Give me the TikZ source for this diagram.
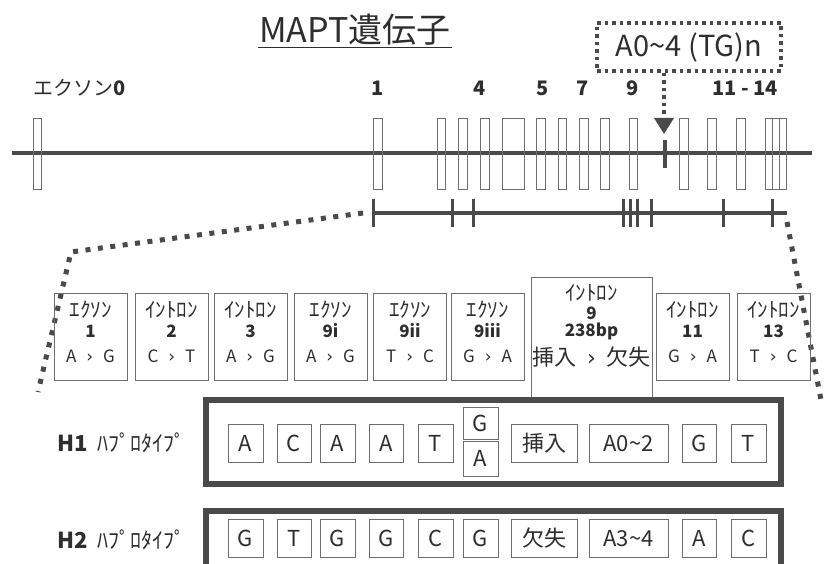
\documentclass[tikz,border=0pt]{standalone}
\usepackage{fontspec}
\setmainfont{Noto Sans CJK JP}
\newfontfamily\dvfont{DejaVu Sans}
\usetikzlibrary{arrows.meta}
\newcommand{\gtm}{{\dvfont ›}}
\newcommand{\gsp}{\hspace{10pt}\gtm\hspace{10pt}}
\definecolor{ink}{HTML}{2E2E2E}
\definecolor{lineg}{HTML}{4A4A4A}
\definecolor{boxg}{HTML}{6E6E6E}
\begin{document}
\begin{tikzpicture}[x=1pt,y=-1pt,
  exonbox/.style={draw=boxg, line width=0.7pt, minimum width=8.5pt, minimum height=71pt, inner sep=0pt},
  mainline/.style={draw=lineg, line width=3.5pt},
  zline/.style={draw=lineg, line width=4.5pt},
  tickline/.style={draw=lineg, line width=3pt},
  sqdots/.style={draw=lineg, line width=5pt, dash pattern=on 5pt off 7.5pt},
  numlab/.style={font=\fontsize{20}{20}\selectfont\bfseries, text=ink, inner sep=1pt},
  sbox/.style={draw=boxg, line width=0.8pt, minimum width=73pt, minimum height=87pt, inner sep=0pt},
  kt/.style={font=\fontsize{21}{21}\selectfont, inner sep=0pt, text=ink},
  nt/.style={font=\fontsize{17}{17}\selectfont\bfseries, inner sep=0pt, text=ink},
  mt/.style={font=\fontsize{17}{17}\selectfont, inner sep=0pt, text=ink},
  hbox/.style={draw=lineg, line width=6pt, inner sep=0pt},
  lbox/.style={draw=boxg, line width=0.8pt, minimum height=38pt, inner sep=0pt, font=\fontsize{22}{22}\selectfont, text=ink},
  hlab/.style={font=\fontsize{22}{22}\selectfont, text=ink, inner sep=0pt, anchor=west}
]
\useasboundingbox (0,0) rectangle (824,564);
\clip (0,0) rectangle (824,564);

% title
\node[font=\fontsize{34}{34}\selectfont, text=ink, inner sep=1pt] (title) at (355,30) {MAPT遺伝子};
\draw[ink, line width=1.2pt] ([yshift=-1pt]title.south west) -- ([yshift=-1pt]title.south east);

% dotted label box and arrow
\node[draw=lineg, line width=3.5pt, dash pattern=on 3.5pt off 4pt, minimum width=184pt, minimum height=48pt,
      font=\fontsize{29}{29}\selectfont, text=ink] (tg) at (689,47) {A0\textasciitilde 4 (TG)n};
\coordinate (tip) at (664,134);
\draw[lineg, line width=3.5pt, dash pattern=on 3.5pt off 4pt, -{Triangle[width=19pt,length=16pt]}] (tg.south -| tip) -- (tip);

% exon number labels
\node[hlab, font=\fontsize{20}{20}\selectfont] (lab0) at (33,88) {エクソン\textbf{0}};
\node[numlab] (n1) at (378,88) {1};
\node[numlab] (n4) at (480,88) {4};
\node[numlab] (n5) at (543,88) {5};
\node[numlab] (n7) at (583,88) {7};
\node[numlab] (n9) at (633,88) {9};
\node[numlab] (n11) at (745,88) {11 - 14};

% main gene line
\draw[mainline] (12,153) -- (812,153);
\foreach \n/\x in {e0/37.5, e1/378, e2/441.5, e3/463, e4/485, e6/541, e7/562.5, e8/584, e9/605, e10/633.5, e11/684, e12/712, e13/741}
  \node[exonbox] (\n) at (\x,153.5) {};
\node[exonbox, minimum width=22pt] (e5) at (513,153.5) {};
\node[exonbox, minimum width=7pt] (e14a) at (768.5,153.5) {};
\node[exonbox, minimum width=7pt] (e14b) at (775.5,153.5) {};
\node[exonbox, minimum width=7.5pt] (e14c) at (782.75,153.5) {};
\node[fill=lineg, minimum width=4pt, minimum height=28pt, inner sep=0pt] (vbar) at (665,154) {};

% zoomed line
\coordinate (zl) at (372,213);
\coordinate (zr) at (787,213);
\draw[zline] (zl) -- (zr);
\foreach \x in {373,452,473,623,630,637,651,723,772}
  \draw[tickline] (\x,199) -- (\x,227);

% dotted zoom connectors
\coordinate (lc) at (71,252);
\coordinate (lend) at (38,392);
\coordinate (rend) at (821,400);
\draw[sqdots] ([xshift=-9pt]zl) -- (lc) -- (lend);
\draw[sqdots] ([yshift=-9pt]zr) -- (rend);

% SNP boxes
\foreach \n/\x/\a/\b/\c in {b1/90.5/ｴｸｿﾝ/1/A\gsp G, b2/171.5/ｲﾝﾄﾛﾝ/2/C\gsp T,
  b3/250.5/ｲﾝﾄﾛﾝ/3/A\gsp G, b4/330.5/ｴｸｿﾝ/9i/A\gsp G,
  b5/410/ｴｸｿﾝ/9ii/T\gsp C, b6/487.5/ｴｸｿﾝ/9iii/G\gsp A,
  b8/692.5/ｲﾝﾄﾛﾝ/11/G\gsp A, b9/773.5/ｲﾝﾄﾛﾝ/13/T\gsp C}
{
  \node[sbox] (\n) at (\x,336.5) {};
  \node[kt] (\n a) at (\x,310) {\a};
  \node[nt] (\n b) at (\x,331) {\b};
  \node[mt] (\n c) at (\x,356) {\c};
}
\node[sbox, minimum width=121pt, minimum height=120pt] (b7) at (591.5,337) {};
\node[kt] (b7a) at (591.5,293) {ｲﾝﾄﾛﾝ};
\node[nt] (b7b) at (591.5,313) {9};
\node[nt] (b7c) at (591.5,331) {238bp};
\node[kt, font=\fontsize{22}{22}\selectfont] (b7d) at (591.5,357) {挿入\enspace\gtm\enspace 欠失};

% haplotype H1
\node[hlab] (h1lab) at (57,443) {\textbf{H1}\hspace{10pt}ﾊﾌﾟﾛﾀｲﾌﾟ};
\node[hbox, minimum width=575pt, minimum height=84pt] (H1box) at (493.5,442) {};
\node[lbox, minimum width=35pt] (h1c1) at (245.5,443.5) {A};
\node[lbox, minimum width=34pt] (h1c2) at (294,443.5) {C};
\node[lbox, minimum width=35pt] (h1c3) at (337.5,443.5) {A};
\node[lbox, minimum width=34pt] (h1c4) at (386,443.5) {A};
\node[lbox, minimum width=35pt] (h1c5) at (435.5,443.5) {T};
\node[lbox, minimum width=35pt, minimum height=32pt] (h1c6g) at (480.5,423) {G};
\node[lbox, minimum width=35pt, minimum height=35pt] (h1c6a) at (480.5,458.5) {A};
\node[lbox, minimum width=66pt] (h1c7) at (544,443.5) {挿入};
\node[lbox, minimum width=79pt] (h1c8) at (628.5,443.5) {A0\textasciitilde 2};
\node[lbox, minimum width=34pt] (h1c9) at (699,443.5) {G};
\node[lbox, minimum width=35pt] (h1c10) at (748.5,443.5) {T};

% haplotype H2
\node[hlab] (h2lab) at (57,540) {\textbf{H2}\hspace{10pt}ﾊﾌﾟﾛﾀｲﾌﾟ};
\node[hbox, minimum width=575pt, minimum height=60pt] (H2box) at (493.5,541) {};
\node[lbox, minimum width=35pt] (h2c1) at (245.5,538.5) {G};
\node[lbox, minimum width=34pt] (h2c2) at (294,538.5) {T};
\node[lbox, minimum width=35pt] (h2c3) at (337.5,538.5) {G};
\node[lbox, minimum width=34pt] (h2c4) at (386,538.5) {G};
\node[lbox, minimum width=35pt] (h2c5) at (435.5,538.5) {C};
\node[lbox, minimum width=35pt] (h2c6) at (480.5,538.5) {G};
\node[lbox, minimum width=66pt] (h2c7) at (544,538.5) {欠失};
\node[lbox, minimum width=79pt] (h2c8) at (628.5,538.5) {A3\textasciitilde 4};
\node[lbox, minimum width=34pt] (h2c9) at (699,538.5) {A};
\node[lbox, minimum width=35pt] (h2c10) at (748.5,538.5) {C};
\end{tikzpicture}
\end{document}
